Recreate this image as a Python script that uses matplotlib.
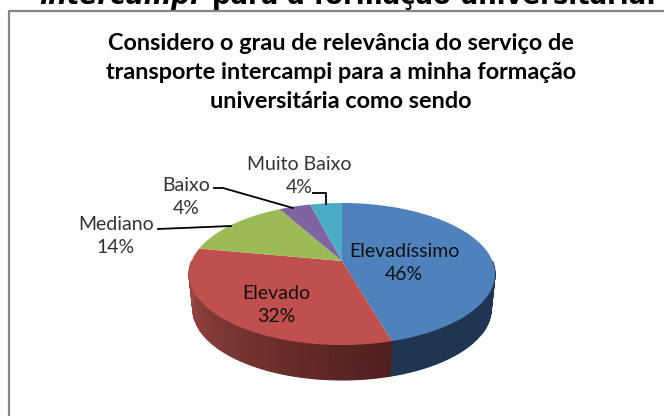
import numpy as np
import matplotlib
matplotlib.use('Agg')
import matplotlib.pyplot as plt

labels = ['Elevadíssimo', 'Elevado', 'Mediano', 'Baixo', 'Muito Baixo']
values = [45.6, 32.4, 14, 4, 4]
colors = ['#4f81bd', '#c0504d', '#9bbb59', '#8064a2', '#4bacc6']
title = 'Considero o grau de relevância do serviço de\ntransporte intercampi para a minha formação\nuniversitária como sendo'

plt.rcParams['font.family'] = ['Lato', 'DejaVu Sans']

fig = plt.figure(figsize=(6.64, 4.16), dpi=100)
ax = fig.add_axes([0, 0, 1, 1])
ax.set_xlim(0, 664)
ax.set_ylim(416, 0)
ax.axis('off')

# squashed circle with a bit of perspective, front looks bigger
cx, cy = 342, 261
k = 0.183
def proj(theta, depth=0.0):
    X = np.sin(theta)
    Y = np.cos(theta)
    w = 1 + k * Y
    s = 1 - 0.025 * depth / 35
    return cx + 150.4 * s * X / w, cy - 68.6 * Y / w + depth

# frame
ax.plot([9, 9, 664], [416, 10.5, 10.5], color='#868686', lw=1.6)

# cut off caption above the frame
ax.text(39, 4.5, 'intercampi', fontfamily='DejaVu Sans', fontsize=19, fontweight='bold',
        fontstyle='italic', ha='left', va='baseline', color='black')
ax.text(212, 4.5, 'para a formação universitária.', fontfamily='DejaVu Sans', fontsize=18.7,
        fontweight='bold', ha='left', va='baseline', color='black')

ax.text(341, 72.5, title, fontsize=16.9, fontweight='bold', ha='center', va='center',
        linespacing=1.48, color='black')

edges = np.cumsum([0] + values) / np.sum(values) * 2 * np.pi

# side wall, drawn in strips for the shading
depth = 35
for i, (c0, c1) in enumerate([('#1f3552', '#1f3552'), ('#4f1f1e', '#a04a46')]):
    t0 = max(edges[i], np.pi / 2)
    t1 = min(edges[i + 1], 3 * np.pi / 2)
    rgb0 = np.array(matplotlib.colors.to_rgb(c0))
    rgb1 = np.array(matplotlib.colors.to_rgb(c1))
    ts = np.linspace(t0, t1, 70)
    for a, b in zip(ts[:-1], ts[1:]):
        f = (a - t0) / (t1 - t0)
        px0, py0 = proj(a)
        px1, py1 = proj(b)
        qx0, qy0 = proj(a, depth)
        qx1, qy1 = proj(b, depth)
        col = rgb0 + (rgb1 - rgb0) * f
        ax.fill([px0, px1, qx1, qx0], [py0, py1, qy1, qy0], fc=col, ec=col, lw=0.8, zorder=2)

# top face
for i in range(len(values)):
    ts = np.linspace(edges[i], edges[i + 1], 80)
    px, py = proj(ts)
    ax.fill(np.r_[cx, px], np.r_[cy, py], color=colors[i], lw=0, zorder=3)

# labels
lab_size = 14
ax.text(404, 263, labels[0] + '\n' + '%d%%' % round(values[0]), fontsize=lab_size, ha='center',
        va='center', linespacing=1.42, color='#111111', zorder=5)
ax.text(276, 305, labels[1] + '\n' + '%d%%' % round(values[1]), fontsize=lab_size, ha='center',
        va='center', linespacing=1.42, color='#111111', zorder=5)
ax.text(116, 236, labels[2] + '\n' + '%d%%' % round(values[2]), fontsize=lab_size, ha='center',
        va='center', linespacing=1.42, color='#333333', zorder=5)
ax.text(186, 197, labels[3] + '\n' + '%d%%' % round(values[3]), fontsize=lab_size, ha='center',
        va='center', linespacing=1.42, color='#333333', zorder=5)
ax.text(299, 176, labels[4] + '\n' + '%d%%' % round(values[4]), fontsize=lab_size, ha='center',
        va='center', linespacing=1.42, color='#333333', zorder=5)

# leader lines
ax.plot([158, 231], [229, 226], color='black', lw=1.3, zorder=4)
ax.plot([214, 223, 293], [188, 188, 208], color='black', lw=1.3, zorder=4)
ax.plot([313, 326, 326], [193, 193, 204], color='black', lw=1.3, zorder=4)

fig.savefig('out.png', dpi=100)
